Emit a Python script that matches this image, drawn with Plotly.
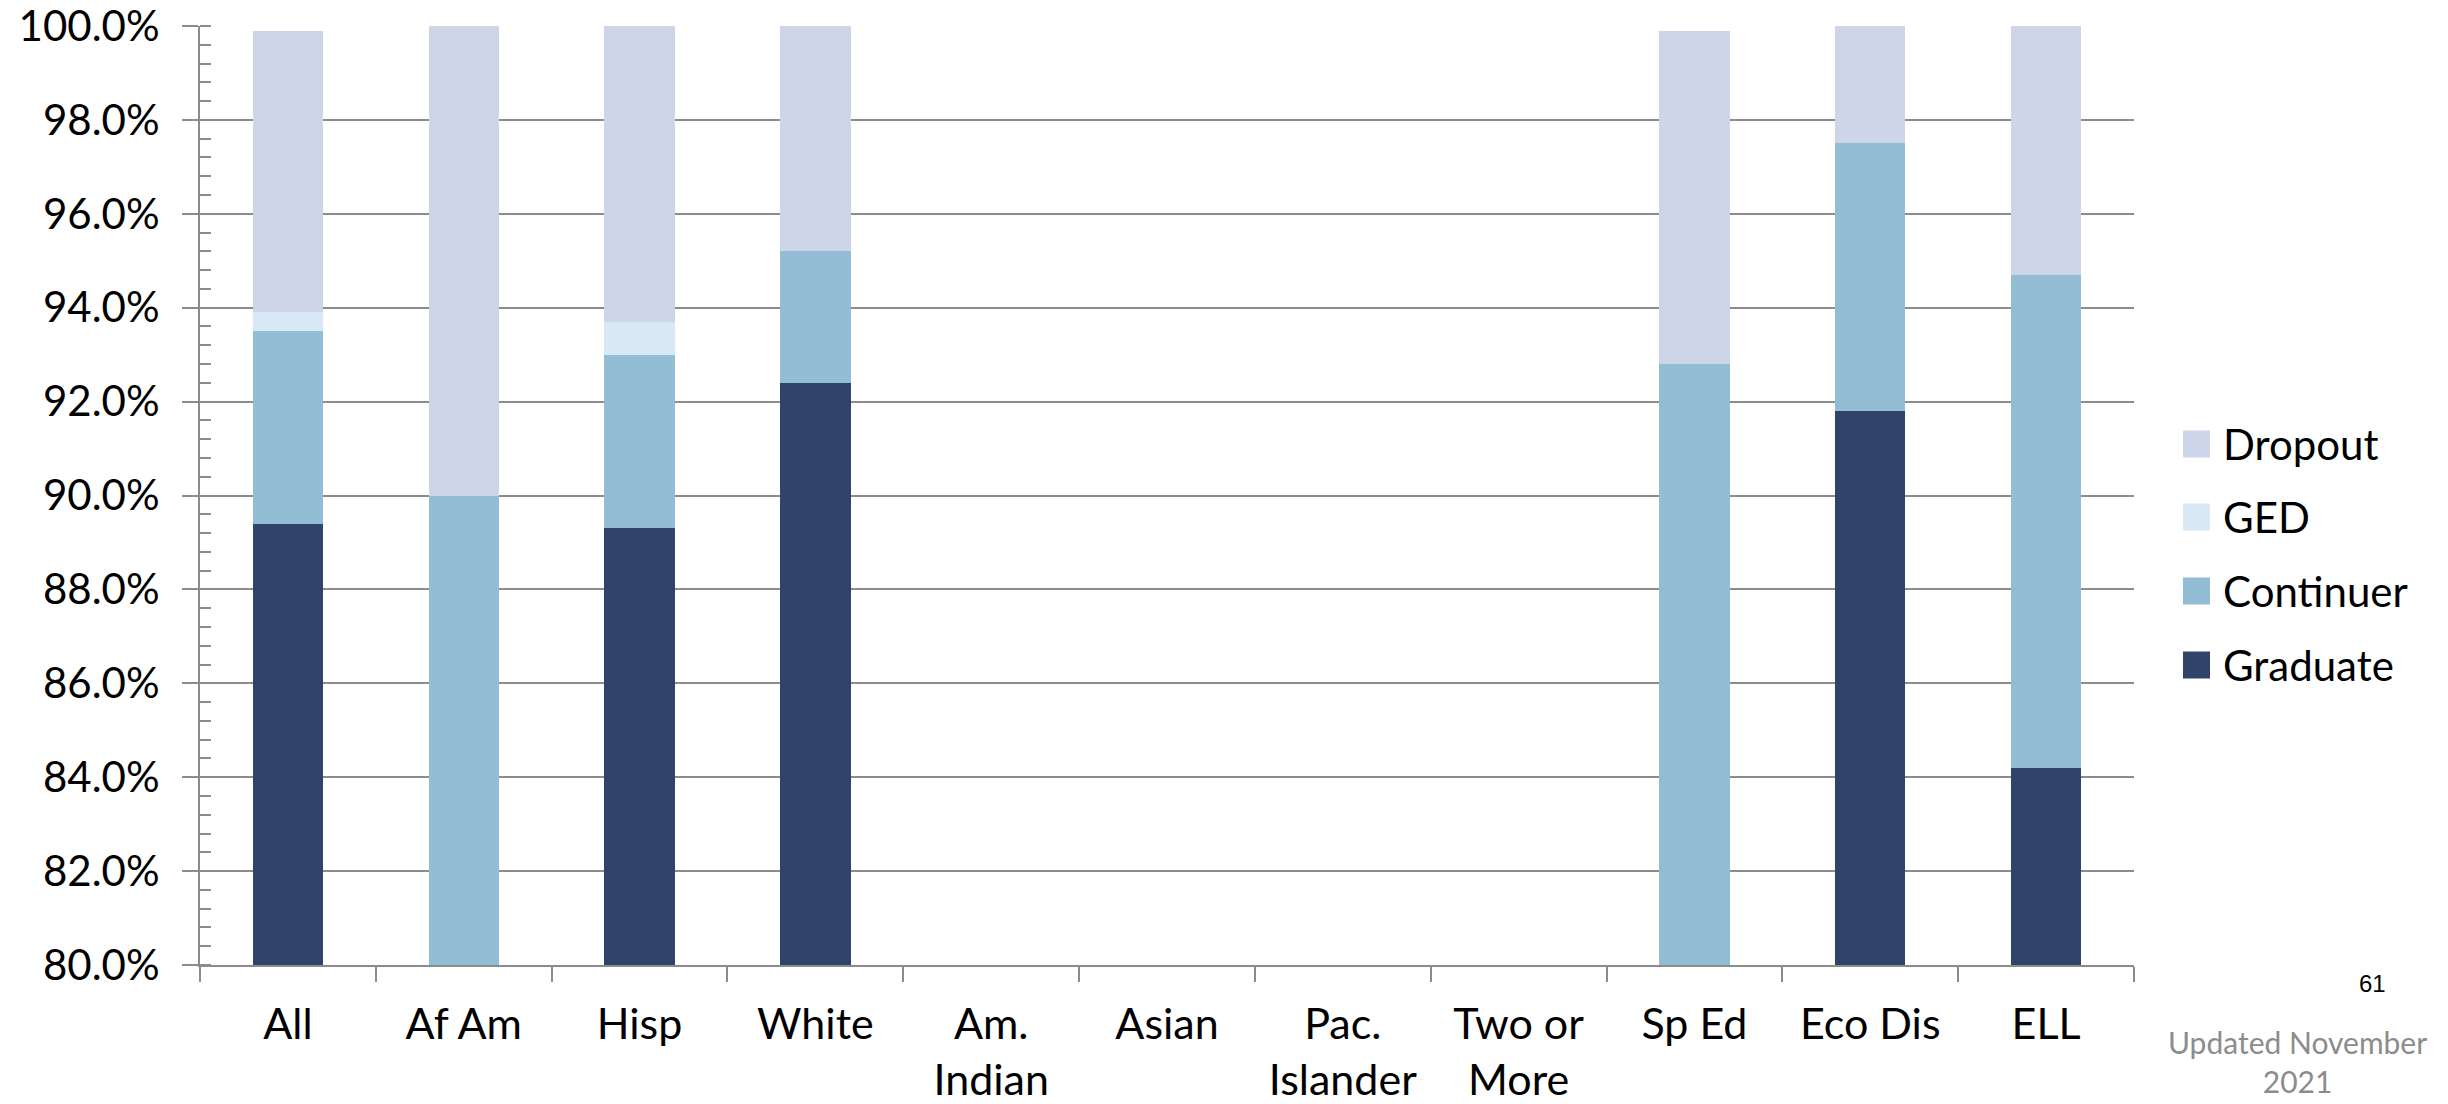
import plotly.graph_objects as go

categories = ["All", "Af Am", "Hisp", "White", "Am.<br>Indian", "Asian",
              "Pac.<br>Islander", "Two or<br>More", "Sp Ed", "Eco Dis", "ELL"]

graduate = [89.4, 80.0, 89.3, 92.4, 0, 0, 0, 0, 78.6, 91.8, 84.2]
continuer = [4.1, 10.0, 3.7, 2.8, 0, 0, 0, 0, 14.2, 5.7, 10.5]
ged = [0.4, 0.0, 0.7, 0.0, 0, 0, 0, 0, 0.0, 0.0, 0.0]
dropout = [6.0, 10.0, 6.3, 4.8, 0, 0, 0, 0, 7.1, 2.5, 5.3]

series_names = ["Graduate", "Continuer", "GED", "Dropout"]
series_values = [graduate, continuer, ged, dropout]
series_colors = ["#304369", "#92BDD5", "#D9E8F5", "#CDD6E8"]

y_ticks = [80, 82, 84, 86, 88, 90, 92, 94, 96, 98, 100]
y_ticktext = ["%.1f%%" % v for v in y_ticks]

FONT = "Lato"
GRID = "#8C8C8C"

fig = go.Figure()
for name, vals, col in zip(series_names, series_values, series_colors):
    fig.add_trace(go.Bar(
        x=categories, y=vals, name=name,
        marker=dict(color=col, line=dict(width=0)),
        showlegend=False,
    ))

W, H = 2448, 1104
L, R, T, B = 200, 314, 26, 139
pw, ph = W - L - R, H - T - B

fig.update_layout(
    width=W, height=H,
    barmode="stack", bargap=0.6,
    plot_bgcolor="white", paper_bgcolor="white",
    margin=dict(l=L, r=R, t=T, b=B, pad=0, autoexpand=False),
    font=dict(family=FONT, color="black"),
)

fig.update_yaxes(
    range=[80, 100], tickvals=y_ticks, ticktext=y_ticktext,
    tickfont=dict(size=42, family=FONT, color="black"),
    showgrid=True, gridcolor=GRID, gridwidth=2,
    ticks="outside", ticklen=16, tickwidth=2, tickcolor=GRID,
    showline=True, linecolor=GRID, linewidth=2,
    ticklabelstandoff=14, automargin=False, ticklabeloverflow="allow",
    minor=dict(dtick=0.4, tick0=80, ticks="inside", ticklen=11,
               tickwidth=2, tickcolor=GRID, showgrid=False),
    zeroline=False,
)
fig.update_xaxes(
    tickfont=dict(size=43, family=FONT, color="black"),
    tickson="boundaries", ticks="outside", ticklen=15, tickwidth=2,
    tickcolor=GRID, showline=True, linecolor=GRID, linewidth=2,
    showgrid=False, automargin=False, ticklabeloverflow="allow",
    ticklabelstandoff=20,
)

# custom legend (top to bottom: Dropout, GED, Continuer, Graduate)
legend_y = [444, 517, 591, 665]
sq = 27
sq_x = 2183
for (name, col), yc in zip(list(zip(series_names, series_colors))[::-1], legend_y):
    x0 = (sq_x - L) / pw
    x1 = (sq_x + sq - L) / pw
    y0 = (H - B - (yc + sq / 2)) / ph
    y1 = (H - B - (yc - sq / 2)) / ph
    fig.add_shape(type="rect", xref="paper", yref="paper",
                  x0=x0, x1=x1, y0=y0, y1=y1,
                  fillcolor=col, line=dict(width=0))
    fig.add_annotation(text=name, xref="paper", yref="paper",
                       x=(2221 - L) / pw, y=(H - B - yc) / ph,
                       xanchor="left", yanchor="middle", showarrow=False,
                       font=dict(size=42, family=FONT, color="black"))

fig.add_annotation(text="61", xref="paper", yref="paper",
                   x=(2372 - L) / pw, y=(H - B - 983) / ph,
                   xanchor="center", yanchor="middle", showarrow=False,
                   font=dict(size=24, family="Liberation Sans", color="black"))
fig.add_annotation(text="Updated November<br>2021", xref="paper", yref="paper",
                   x=(2297 - L) / pw, y=(H - B - 1061) / ph,
                   xanchor="center", yanchor="middle", showarrow=False,
                   font=dict(size=30, family=FONT, color="#8C8C8C"))

fig.write_html("out.html", config={"displayModeBar": False},
               post_script="document.body.style.margin='0';document.body.style.overflow='hidden';")
